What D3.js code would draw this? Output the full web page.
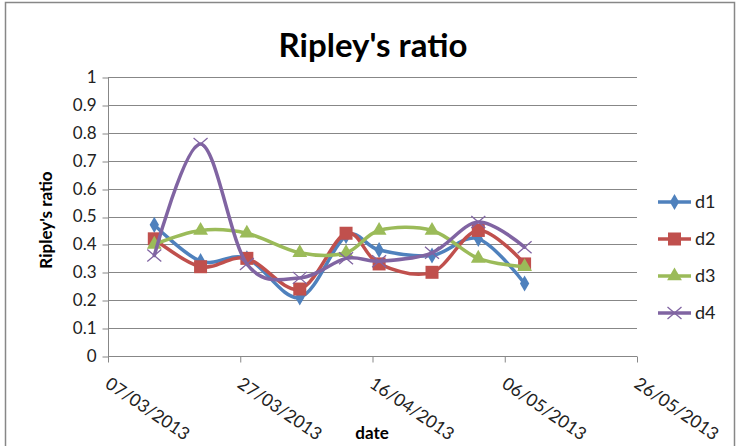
<!DOCTYPE html>
<html>
<head>
<meta charset="utf-8">
<script src="https://cdn.jsdelivr.net/npm/d3@7"></script>
<style>
  html, body { margin: 0; padding: 0; background: #fff; }
  svg { display: block; font-family: Lato, "Open Sans", sans-serif; }
</style>
</head>
<body>
<svg id="chart" width="737" height="446"></svg>
<script>
// Sampling dates (dd/mm/yyyy)
const dates = ["14/03/2013", "21/03/2013", "28/03/2013", "05/04/2013", "12/04/2013",
               "17/04/2013", "25/04/2013", "02/05/2013", "09/05/2013"];
const d1 = [0.47, 0.34, 0.35, 0.21, 0.43, 0.38, 0.36, 0.42, 0.26];
const d2 = [0.42, 0.32, 0.35, 0.24, 0.44, 0.33, 0.30, 0.45, 0.33];
const d3v = [0.40, 0.45, 0.44, 0.37, 0.37, 0.45, 0.45, 0.35, 0.32];
const d4 = [0.36, 0.76, 0.33, 0.28, 0.35, 0.34, 0.37, 0.48, 0.39];
const seriesNames = ["d1", "d2", "d3", "d4"];
const xTickLabels = ["07/03/2013", "27/03/2013", "16/04/2013", "06/05/2013", "26/05/2013"];
const yTicks = [0, 0.1, 0.2, 0.3, 0.4, 0.5, 0.6, 0.7, 0.8, 0.9, 1];

const parse = d3.timeParse("%d/%m/%Y");
const fmt = d3.timeFormat("%d/%m/%Y");
const colors = ["#4F81BD", "#C0504D", "#9BBB59", "#8064A2"];
const symbols = ["diamond", "square", "triangle", "cross"];
const values = [d1, d2, d3v, d4];
const series = seriesNames.map((name, i) => ({
  name, color: colors[i], symbol: symbols[i],
  points: dates.map((d, j) => ({ date: parse(d), value: values[i][j] }))
}));

const svg = d3.select("#chart");
const plot = { left: 108, right: 637, top: 77, bottom: 356 };
const grey = "#878787";

// chart frame
svg.append("rect").attr("x", 5.5).attr("y", 2.5).attr("width", 729).attr("height", 460)
  .attr("fill", "#fff").attr("stroke", grey).attr("stroke-width", 1.5);

const xTickDates = xTickLabels.map(parse);
const x = d3.scaleTime()
  .domain([xTickDates[0], xTickDates[xTickDates.length - 1]])
  .range([plot.left, plot.right]);
const y = d3.scaleLinear().domain([0, 1]).range([plot.bottom, plot.top]);

// horizontal gridlines
svg.append("g").selectAll("line").data(yTicks.filter(t => t > 0)).join("line")
  .attr("x1", plot.left).attr("x2", plot.right)
  .attr("y1", d => Math.round(y(d)) + 0.5).attr("y2", d => Math.round(y(d)) + 0.5)
  .attr("stroke", grey).attr("stroke-width", 1);

// y axis
const yAxis = svg.append("g")
  .attr("transform", `translate(${plot.left + 0.5},0)`)
  .call(d3.axisLeft(y).tickValues(yTicks).tickFormat(d3.format("~g")).tickSize(6).tickPadding(6));
yAxis.select(".domain").attr("stroke", grey).attr("d", `M0,${plot.top}V${plot.bottom + 0.5}`);
yAxis.selectAll(".tick line").attr("stroke", grey).attr("transform", d => `translate(0,${Math.round(y(d)) + 0.5 - y(d)})`);
yAxis.selectAll(".tick text").attr("font-size", 17).attr("fill", "#222")
  .attr("font-family", "Lato, sans-serif");

// x axis
const xAxis = svg.append("g")
  .attr("transform", `translate(0,${plot.bottom + 0.5})`)
  .call(d3.axisBottom(x).tickValues(xTickDates).tickFormat(fmt).tickSize(6).tickPadding(6));
xAxis.select(".domain").attr("stroke", grey).attr("d", `M${plot.left},0H${plot.right}`);
xAxis.selectAll(".tick line").attr("stroke", grey);
xAxis.selectAll(".tick text")
  .attr("font-size", 17.5).attr("fill", "#222").attr("font-family", "Lato, sans-serif")
  .attr("text-anchor", "start")
  .attr("transform", "translate(-1,25) rotate(34)")
  .attr("dy", "0.35em").attr("y", 0).attr("x", 0);

// titles
svg.append("text").attr("x", 373).attr("y", 57).attr("text-anchor", "middle")
  .attr("font-size", 33).attr("font-weight", "bold").attr("fill", "#000")
  .text("Ripley's ratio");
svg.append("text").attr("transform", "translate(52,220) rotate(-90)")
  .attr("text-anchor", "middle").attr("font-size", 17).attr("font-weight", "bold")
  .attr("fill", "#000").text("Ripley's ratio");
svg.append("text").attr("x", 372).attr("y", 439).attr("text-anchor", "middle")
  .attr("font-size", 17).attr("font-weight", "bold").attr("fill", "#000").text("date");

// smoothed lines
const line = d3.line().x(d => x(d.date)).y(d => y(d.value)).curve(d3.curveCardinal.tension(0));

function drawMarker(g, s, cx, cy) {
  if (s.symbol === "diamond") {
    g.append("path").attr("d", d3.symbol(d3.symbolDiamond, 75)())
      .attr("transform", `translate(${cx},${cy})`).attr("fill", s.color);
  } else if (s.symbol === "square") {
    g.append("rect").attr("x", cx - 6.5).attr("y", cy - 6.5).attr("width", 13).attr("height", 13)
      .attr("fill", s.color);
  } else if (s.symbol === "triangle") {
    g.append("path").attr("d", d3.symbol(d3.symbolTriangle, 95)())
      .attr("transform", `translate(${cx},${cy})`).attr("fill", s.color);
  } else {
    g.append("path").attr("d", `M${cx - 7},${cy - 6}L${cx + 7},${cy + 6}M${cx - 7},${cy + 6}L${cx + 7},${cy - 6}`)
      .attr("stroke", s.color).attr("stroke-width", 1.3).attr("fill", "none");
  }
}

series.forEach(s => {
  const g = svg.append("g");
  g.append("path").datum(s.points).attr("d", line)
    .attr("fill", "none").attr("stroke", s.color).attr("stroke-width", 3.5)
    .attr("stroke-linejoin", "round").attr("stroke-linecap", "round");
  s.points.forEach(p => drawMarker(g, s, x(p.date), y(p.value)));
});

// legend
const legend = svg.append("g");
series.forEach((s, i) => {
  const ly = 202 + i * 37;
  const g = legend.append("g");
  g.append("line").attr("x1", 658).attr("x2", 691).attr("y1", ly).attr("y2", ly)
    .attr("stroke", s.color).attr("stroke-width", 3.5);
  drawMarker(g, s, 674.5, ly);
  g.append("text").attr("x", 695).attr("y", ly).attr("dy", "0.35em")
    .attr("font-size", 18).attr("fill", "#222").text(s.name);
});
</script>
</body>
</html>
